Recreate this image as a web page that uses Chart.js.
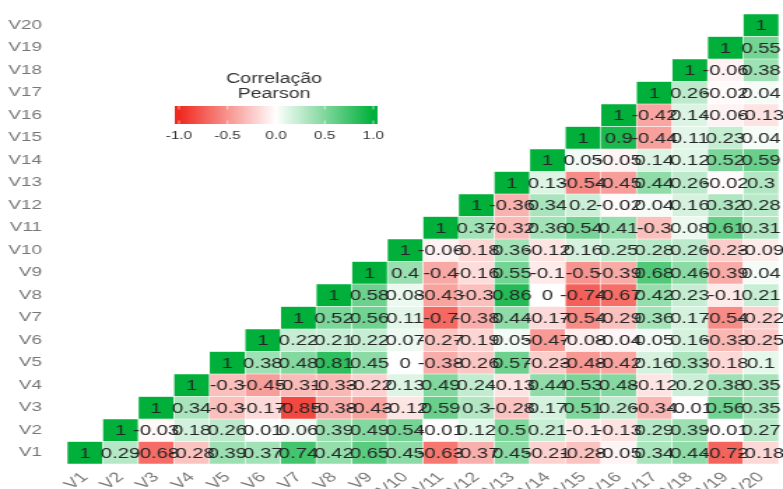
<!DOCTYPE html>
<html>
<head>
<meta charset="utf-8">
<title>Correlação Pearson</title>
<script src="https://cdn.jsdelivr.net/npm/chart.js@4.4.1/dist/chart.umd.min.js"></script>
<style>
    html, body { margin: 0; padding: 0; background: #fff; overflow: hidden; }
    /* the reference is stretched sideways, so the canvas is drawn narrow and widened */
    #wrap { width: 560px; height: 489px; transform: scaleX(1.3982); transform-origin: 0 0; }
</style>
</head>
<body>
<div id="wrap"><canvas id="corrChart" width="560" height="489"></canvas></div>
<script>
// variables (x categories and y rows)
const varLabels = ['V1', 'V2', 'V3', 'V4', 'V5', 'V6', 'V7', 'V8', 'V9', 'V10',
    'V11', 'V12', 'V13', 'V14', 'V15', 'V16', 'V17', 'V18', 'V19', 'V20'];

// correlations per row, starting at the diagonal
const corrV1 = [1, 0.29, -0.68, -0.28, 0.39, 0.37, 0.74, 0.42, 0.65, 0.45, -0.63, -0.37, 0.45, -0.21, -0.28, -0.05, 0.34, 0.44, -0.72, -0.18];
const corrV2 = [1, -0.03, 0.18, 0.26, 0.01, 0.06, 0.39, 0.49, 0.54, -0.01, 0.12, 0.5, 0.21, -0.1, -0.13, 0.29, 0.39, -0.01, 0.27];
const corrV3 = [1, 0.34, -0.3, -0.17, -0.85, -0.38, -0.43, -0.12, 0.59, 0.3, -0.28, 0.17, 0.51, 0.26, -0.34, -0.01, 0.56, 0.35];
const corrV4 = [1, -0.3, -0.45, -0.31, -0.33, -0.22, 0.13, 0.49, 0.24, -0.13, 0.44, 0.53, 0.48, -0.12, 0.2, 0.38, 0.35];
const corrV5 = [1, 0.38, 0.48, 0.81, 0.45, 0, -0.38, -0.26, 0.57, -0.23, -0.48, -0.42, 0.16, 0.33, -0.18, 0.1];
const corrV6 = [1, 0.22, 0.21, 0.22, 0.07, -0.27, -0.19, 0.05, -0.47, -0.08, -0.04, 0.05, 0.16, -0.33, -0.25];
const corrV7 = [1, 0.52, 0.56, 0.11, -0.7, -0.38, 0.44, -0.17, -0.54, -0.29, 0.36, 0.17, -0.54, -0.22];
const corrV8 = [1, 0.58, 0.08, -0.43, -0.3, 0.86, 0, -0.74, -0.67, 0.42, 0.23, -0.1, 0.21];
const corrV9 = [1, 0.4, -0.4, -0.16, 0.55, -0.1, -0.5, -0.39, 0.68, 0.46, -0.39, 0.04];
const corrV10 = [1, -0.06, -0.18, 0.36, -0.12, 0.16, 0.25, 0.28, 0.26, -0.23, -0.09];
const corrV11 = [1, 0.37, -0.32, 0.36, 0.54, 0.41, -0.3, 0.08, 0.61, 0.31];
const corrV12 = [1, -0.36, 0.34, 0.2, -0.02, 0.04, 0.16, 0.32, 0.28];
const corrV13 = [1, 0.13, -0.54, -0.45, 0.44, 0.26, -0.02, 0.3];
const corrV14 = [1, 0.05, -0.05, 0.14, 0.12, 0.52, 0.59];
const corrV15 = [1, 0.9, -0.44, 0.11, 0.23, 0.04];
const corrV16 = [1, -0.42, 0.14, -0.06, -0.13];
const corrV17 = [1, 0.26, -0.02, 0.04];
const corrV18 = [1, -0.06, 0.38];
const corrV19 = [1, 0.55];
const corrV20 = [1];

const corrRows = [corrV1, corrV2, corrV3, corrV4, corrV5, corrV6, corrV7, corrV8, corrV9, corrV10,
    corrV11, corrV12, corrV13, corrV14, corrV15, corrV16, corrV17, corrV18, corrV19, corrV20];

// colour bar legend
const legendTitle = ['Correlação', 'Pearson'];
const legendTicks = [-1, -0.5, 0, 0.5, 1];
const legendTickLabels = ['-1.0', '-0.5', '0.0', '0.5', '1.0'];

const FONT = '"Liberation Sans", Arial, sans-serif';

function corrColor(v) {
    const end = v < 0 ? [240, 40, 30] : [0, 176, 58];
    const t = Math.min(1, Math.abs(v));
    const c = end.map(e => Math.round(255 + (e - 255) * t));
    return `rgb(${c[0]},${c[1]},${c[2]})`;
}

// one dataset per row, each cell is a floating bar from row-0.5 to row+0.5
const datasets = corrRows.map((row, r) => ({
    label: varLabels[r],
    data: varLabels.map((_, c) => c >= r ? [r + 0.5, r + 1.5] : null),
    corr: varLabels.map((_, c) => c >= r ? row[c - r] : null),
    backgroundColor: varLabels.map((_, c) => c >= r ? corrColor(row[c - r]) : 'rgba(0,0,0,0)'),
    borderColor: 'rgba(255,255,255,0.45)',
    borderWidth: 0.6,
    borderSkipped: false,
    grouped: false,
    barPercentage: 1,
    categoryPercentage: 1
}));

// writes the value in the middle of each cell
const cellText = {
    id: 'cellText',
    afterDatasetsDraw(chart) {
        const ctx = chart.ctx;
        ctx.save();
        ctx.font = '14.5px ' + FONT;
        ctx.fillStyle = '#262626';
        ctx.textAlign = 'center';
        ctx.textBaseline = 'middle';
        chart.data.datasets.forEach((ds, i) => {
            const meta = chart.getDatasetMeta(i);
            meta.data.forEach((bar, c) => {
                const v = ds.corr[c];
                if (v === null) return;
                ctx.fillText(String(v), bar.x, (bar.y + bar.base) / 2 + 1);
            });
        });
        ctx.restore();
    }
};

// gradient colour bar with its title and ticks
const colorBar = {
    id: 'colorBar',
    afterDraw(chart) {
        const ctx = chart.ctx;
        const left = 125, right = 270, top = 106, bottom = 124;
        const lo = 128, hi = 267;
        const toX = v => lo + (v + 1) / 2 * (hi - lo);
        ctx.save();
        ctx.fillStyle = '#333';
        ctx.textAlign = 'center';
        ctx.textBaseline = 'alphabetic';
        ctx.font = '14px ' + FONT;
        ctx.fillText(legendTitle[0], 196, 83);
        ctx.fillText(legendTitle[1], 196, 98);

        const grad = ctx.createLinearGradient(left, 0, right, 0);
        for (let k = 0; k <= 20; k++) {
            const v = -1 + k / 10;
            grad.addColorStop(Math.min(1, Math.max(0, (toX(v) - left) / (right - left))), corrColor(v));
        }
        grad.addColorStop(0, corrColor(-1));
        grad.addColorStop(1, corrColor(1));
        ctx.fillStyle = grad;
        ctx.fillRect(left, top, right - left, bottom - top);

        ctx.strokeStyle = 'rgba(255,255,255,0.8)';
        ctx.lineWidth = 0.8;
        legendTicks.forEach(v => {
            const x = toX(v);
            ctx.beginPath();
            ctx.moveTo(x, top); ctx.lineTo(x, top + 3.5);
            ctx.moveTo(x, bottom); ctx.lineTo(x, bottom - 3.5);
            ctx.stroke();
        });

        ctx.fillStyle = '#333';
        ctx.font = '11px ' + FONT;
        ctx.textBaseline = 'top';
        legendTicks.forEach((v, i) => ctx.fillText(legendTickLabels[i], toX(v), 130));
        ctx.restore();
    }
};

new Chart(document.getElementById('corrChart'), {
    type: 'bar',
    data: { labels: varLabels, datasets: datasets },
    options: {
        responsive: false,
        animation: false,
        devicePixelRatio: 1,
        layout: { padding: { top: 14, right: 3, left: 0, bottom: 0 } },
        plugins: {
            legend: { display: false },
            tooltip: { enabled: false }
        },
        scales: {
            x: {
                type: 'category',
                grid: { display: false },
                border: { display: false },
                ticks: {
                    color: '#777',
                    font: { size: 14, family: FONT },
                    minRotation: 45,
                    maxRotation: 45,
                    autoSkip: false,
                    padding: -3
                },
                afterFit(scale) {
                    scale.height = 25;
                    scale.paddingLeft = 0;
                    scale.paddingRight = 0;
                }
            },
            y: {
                type: 'linear',
                min: 0.5,
                max: 20.5,
                grid: { display: false },
                border: { display: false },
                afterBuildTicks(scale) {
                    scale.ticks = varLabels.map((_, i) => ({ value: i + 1 }));
                },
                ticks: {
                    autoSkip: false,
                    color: '#777',
                    font: { size: 13.5, family: FONT },
                    padding: 10,
                    callback: v => varLabels[v - 1]
                },
                afterFit(scale) {
                    scale.width = 48;
                    scale.paddingTop = 0;
                    scale.paddingBottom = 0;
                }
            }
        }
    },
    plugins: [cellText, colorBar]
});
</script>
</body>
</html>
